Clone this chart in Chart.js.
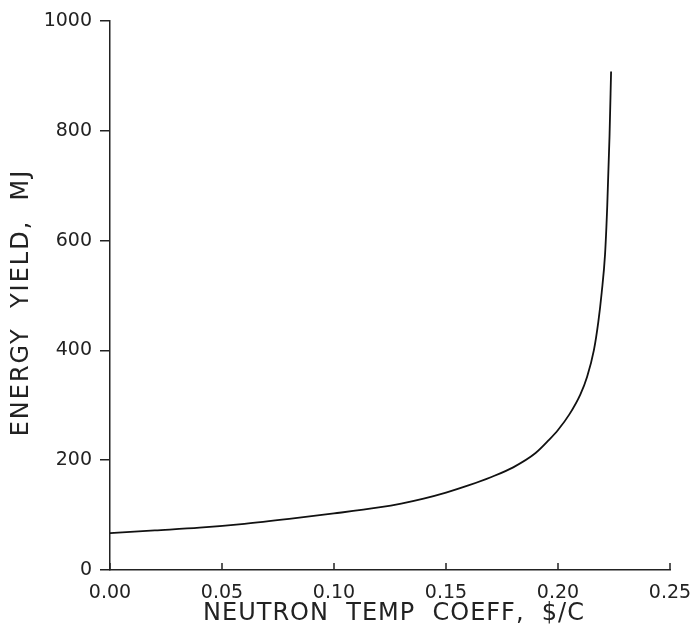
<!DOCTYPE html>
<html>
<head>
<meta charset="utf-8">
<script src="https://cdn.jsdelivr.net/npm/chart.js@4.4.1/dist/chart.umd.min.js"></script>
<style>
  html, body { margin: 0; padding: 0; background: #fff; }
  #wrap { width: 691px; height: 630px; }
</style>
</head>
<body>
<div id="wrap"><canvas id="grafico" width="691" height="630"></canvas></div>
<script>
// values
const tempCoeff = [0, 0.02, 0.04, 0.06, 0.08, 0.10, 0.12, 0.13, 0.14, 0.15, 0.16, 0.17, 0.18, 0.19, 0.196, 0.20, 0.205, 0.21, 0.213, 0.216, 0.218, 0.2195, 0.221, 0.222, 0.223, 0.2237]
const energyYield = [67, 72, 77, 84, 93, 103, 114, 121, 130, 141, 154, 169, 187, 213, 237, 255, 283, 320, 352, 400, 452, 505, 575, 665, 790, 908]
const xTicks = [0, 0.05, 0.10, 0.15, 0.20, 0.25]
const yTicks = [0, 200, 400, 600, 800, 1000]
const xTitle = "NEUTRON  TEMP  COEFF,  $/C"
const yTitle = "ENERGY  YIELD,  MJ"

const ink = "#222"
const puntos = tempCoeff.map((x, i) => ({ x: x, y: energyYield[i] }))

// x ticks point up into the plot, and titles are drawn by hand
const extras = {
    id: "extras",
    afterDraw(chart) {
        const ctx = chart.ctx
        const xs = chart.scales.x
        const area = chart.chartArea
        ctx.save()
        ctx.strokeStyle = ink
        ctx.lineWidth = 1.5
        xTicks.forEach((t) => {
            const px = xs.getPixelForValue(t)
            ctx.beginPath()
            ctx.moveTo(px, area.bottom)
            ctx.lineTo(px, area.bottom - 7)
            ctx.stroke()
        })
        ctx.fillStyle = ink
        ctx.font = "24px 'DejaVu Sans'"
        ctx.textAlign = "center"
        ctx.textBaseline = "middle"
        ctx.letterSpacing = "1px"
        ctx.fillText(xTitle, (area.left + area.right) / 2 + 4, 614)
        ctx.translate(22, (area.top + area.bottom) / 2 + 7)
        ctx.rotate(-Math.PI / 2)
        ctx.letterSpacing = "2px"
        ctx.fillText(yTitle, 0, 0)
        ctx.restore()
    }
}

const config = {
    type: "scatter",
    data: {
        datasets: [{
            data: puntos,
            showLine: true,
            borderColor: "#111",
            borderWidth: 1.8,
            pointRadius: 0,
            cubicInterpolationMode: "monotone"
        }]
    },
    options: {
        responsive: false,
        animation: false,
        layout: { padding: { top: 21, right: 21, left: 0, bottom: 0 } },
        plugins: { legend: { display: false }, tooltip: { enabled: false } },
        scales: {
            x: {
                type: "linear",
                min: 0,
                max: 0.25,
                afterFit: (s) => { s.height = 60; s.paddingLeft = 0; s.paddingRight = 0 },
                afterBuildTicks: (s) => { s.ticks = xTicks.map((v) => ({ value: v })) },
                grid: { display: false },
                border: { display: true, color: ink, width: 1.5 },
                ticks: {
                    color: ink,
                    font: { family: "'DejaVu Sans'", size: 19 },
                    padding: 4,
                    maxRotation: 0,
                    callback: (v) => v.toFixed(2)
                }
            },
            y: {
                type: "linear",
                min: 0,
                max: 1000,
                afterFit: (s) => { s.width = 110; s.paddingTop = 0; s.paddingBottom = 0 },
                afterBuildTicks: (s) => { s.ticks = yTicks.map((v) => ({ value: v })) },
                grid: { display: true, drawOnChartArea: false, drawTicks: true, tickLength: 10, color: ink, lineWidth: 1.5 },
                border: { display: true, color: ink, width: 1.5 },
                ticks: {
                    color: ink,
                    font: { family: "'DejaVu Sans'", size: 19 },
                    padding: 8,
                    callback: (v) => String(v)
                }
            }
        }
    },
    plugins: [extras]
}

let chart = new Chart(document.getElementById("grafico"), config)
</script>
</body>
</html>
